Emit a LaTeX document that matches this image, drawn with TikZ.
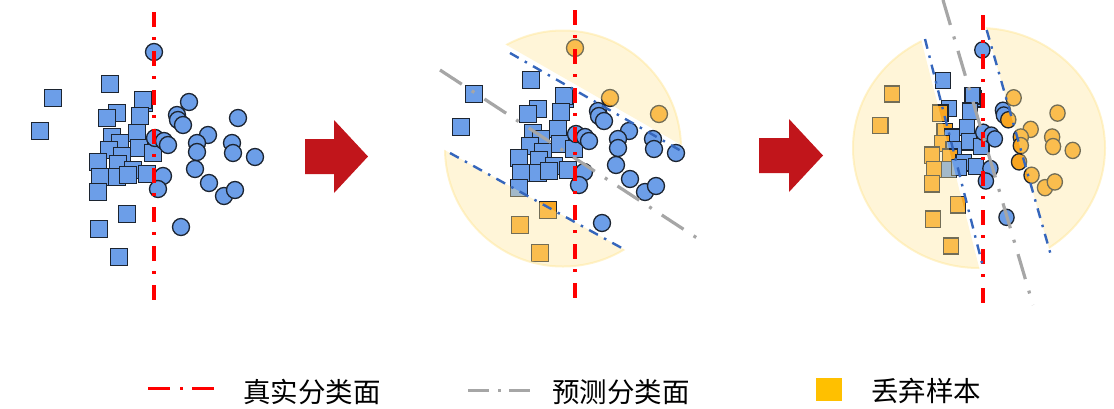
\documentclass[tikz,border=0pt]{standalone}
\usepackage{fontspec}
\newfontfamily\cjk{Noto Sans CJK SC}
\usetikzlibrary{positioning}
\definecolor{ptblue}{HTML}{6C9EE8}
\definecolor{ptedge}{HTML}{1C2430}
\definecolor{ptorange}{HTML}{F8A521}
\definecolor{legorange}{HTML}{FFC000}
\definecolor{truered}{HTML}{FF0000}
\definecolor{predgrey}{HTML}{A6A6A6}
\definecolor{bandblue}{HTML}{3566BC}
\definecolor{zone}{HTML}{FFE699}
\definecolor{arrowred}{HTML}{C1151B}

% samples: x/y/discarded in panel 2/discarded in panel 3
\def\squarelist{53/98/0/1, 40/131/0/1, 110/84/0/0, 144/103/0/0, 143/100/0/0,
  117/113/0/0, 107/118/0/1, 140/116/0/0, 112/137/0/1, 137/133/0/0, 120/143/0/0,
  109/150/0/1, 122/156/0/0, 139/148/0/0, 153/153/0/0, 98/162/0/1, 118/164/0/1,
  133/170/0/0, 100/177/0/1, 117/177/0/0, 128/175/0/0, 147/174/0/0, 98/192/0/1,
  127/214/1/1, 99/229/1/1, 119/257/1/1}
\def\circlelist{154/52/1/0, 189/102/1/1, 177/115/0/0, 178/120/0/0, 183/125/0/1,
  238/118/1/1, 155/138/0/0, 164/141/0/0, 168/145/0/0, 208/135/0/1, 197/143/0/1,
  197/152/0/1, 232/143/0/1, 233/153/0/1, 255/157/0/1, 163/176/0/0, 158/189/0/0,
  195/169/0/1, 209/183/0/1, 224/196/0/1, 235/190/0/1, 181/227/0/0}

\tikzset{
  sample/.style={draw=ptedge, line width=1.3pt},
  truebound/.style={truered, line width=3.4pt, dash pattern=on 15pt off 10pt on 3pt off 11pt},
  predbound/.style={predgrey, line width=3.2pt, dash pattern=on 26pt off 12pt on 3pt off 12pt},
  bandbound/.style={bandblue, line width=2.4pt, dash pattern=on 10pt off 7pt on 2.5pt off 7pt},
  discardzone/.style={fill=zone, fill opacity=0.38, draw=zone, draw opacity=0.5, line width=2pt},
  legtext/.style={font=\cjk\fontsize{27.5}{30}\selectfont, anchor=west, inner sep=0pt},
  shift arrow/.style={fill=arrowred}
}

\begin{document}
\begin{tikzpicture}[x=1pt, y=-1pt]
  \useasboundingbox (0,0) rectangle (1114,408);

  % the same samples in the three panels
  \foreach \pn/\sx/\sy/\xs/\ys in {1/0/0/1/1, 2/421/-4/1/1, 3/844.5/0.3/0.895/0.956} {
    \begin{scope}[shift={(\sx,\sy)}, xscale=\xs, yscale=\ys]
      \foreach \px/\py/\fb/\fc in \squarelist {
        \ifnum\pn=2 \let\fl\fb \else\ifnum\pn=3 \let\fl\fc \else\def\fl{0}\fi\fi
        \ifnum\fl=1 \def\col{ptorange}\else\def\col{ptblue}\fi
        \filldraw[sample, fill=\col] (\px-8.5,\py-8.5) rectangle (\px+8.5,\py+8.5);
      }
      \foreach \px/\py/\fb/\fc in \circlelist {
        \ifnum\pn=2 \let\fl\fb \else\ifnum\pn=3 \let\fl\fc \else\def\fl{0}\fi\fi
        \ifnum\fl=1 \def\col{ptorange}\else\def\col{ptblue}\fi
        \filldraw[sample, fill=\col] (\px,\py) circle (8.5);
      }
    \end{scope}
  }

  % discard zones
  \begin{scope}
    \clip (164,-151) -- (856,245) -- (856,-400) -- (164,-400) -- cycle;
    \filldraw[discardzone] (563,148.5) circle (118);
  \end{scope}
  \begin{scope}
    \clip (106.6,-37) -- (793.4,343) -- (793.4,600) -- (106.6,600) -- cycle;
    \filldraw[discardzone] (563,148.5) circle (118);
  \end{scope}
  \begin{scope}
    \clip (863,-189) -- (1037,495) -- (600,495) -- (600,-189) -- cycle;
    \filldraw[discardzone] (979,148) ellipse (126 and 120);
  \end{scope}
  \begin{scope}
    \clip (921.7,-198) -- (1116.7,486) -- (1400,486) -- (1400,-198) -- cycle;
    \filldraw[discardzone] (979,148) ellipse (126 and 120);
  \end{scope}

  % boundaries
  \draw[truebound] (154,12) -- (154,300);
  \draw[truebound] (575,10) -- (575,300);
  \draw[truebound] (983,15) -- (983,303);
  \draw[predbound] (440,70) -- (700,240);
  \draw[predbound] (943,0) -- (1033,305);
  \draw[bandbound] (510,53) -- (683,152);
  \draw[bandbound] (450,153) -- (621.7,248);
  \draw[bandbound] (925,39) -- (983,267);
  \draw[bandbound] (986.7,30) -- (1051.7,258);

  % arrows between the panels
  \fill[shift arrow] (305,139) -- (334,139) -- (334,120) -- (368,156.5)
    -- (334,193) -- (334,174) -- (305,174) -- cycle;
  \fill[shift arrow] (759,138) -- (789,138) -- (789,119) -- (823,155.5)
    -- (789,192) -- (789,173) -- (759,173) -- cycle;

  % legend
  \node[legtext] (truelab) at (243,392) {真实分类面};
  \node[legtext] (predlab) at (552,392) {预测分类面};
  \node[legtext] (droplab) at (871,391) {丢弃样本};
  \coordinate (truea) at (148,388);
  \coordinate (trueb) at (214,388);
  \coordinate (preda) at (468,390);
  \coordinate (predb) at (530,390);
  \draw[truebound, line width=3pt, dash pattern=on 22pt off 10pt on 3pt off 9pt] (truea) -- (trueb);
  \draw[predbound, line width=3pt, dash pattern=on 21pt off 9pt on 3pt off 8pt] (preda) -- (predb);
  \fill[legorange] (816,378) rectangle (842,401);
\end{tikzpicture}
\end{document}
